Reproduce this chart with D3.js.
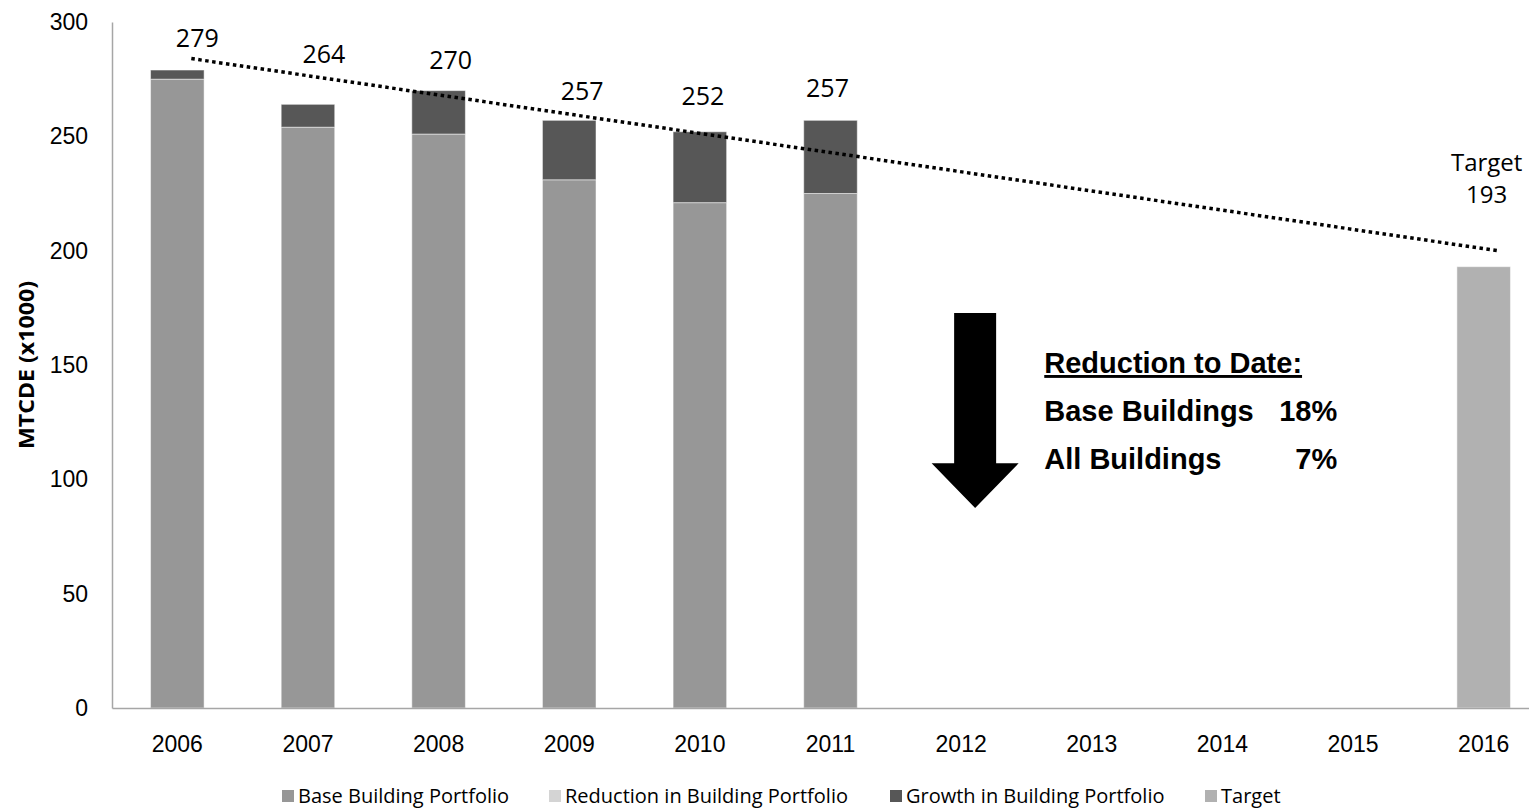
<!DOCTYPE html>
<html>
<head>
<meta charset="utf-8">
<style>
    body { margin: 0; background: #fff; }
    svg { font-family: "Open Sans", sans-serif; display: block; }
    .axis path { stroke: #a6a6a6; stroke-width: 1.5px; }
    .axis line { display: none; }
    .axis text { fill: #000; }
    .note { font-family: "Liberation Sans", Arial, sans-serif; font-weight: bold; font-size: 29px; }
</style>
<script src="https://cdn.jsdelivr.net/npm/d3@7"></script>
<title>MTCDE</title>
</head>
<body>
<div id="chart"></div>
<script>
    // chart values
    var years = ["2006", "2007", "2008", "2009", "2010", "2011", "2012", "2013", "2014", "2015", "2016"];
    var base = [275, 254, 251, 231, 221, 225, 0, 0, 0, 0, 0];
    var reduction = [0, 0, 0, 0, 0, 0, 0, 0, 0, 0, 0];
    var growth = [4, 10, 19, 26, 31, 32, 0, 0, 0, 0, 0];
    var target = [0, 0, 0, 0, 0, 0, 0, 0, 0, 0, 193];
    var totals = [279, 264, 270, 257, 252, 257];
    var trendYears = ["2006", "2016"];
    var trendValues = [284, 200];
    var yTicks = [0, 50, 100, 150, 200, 250, 300];
    var seriesNames = ["Base Building Portfolio", "Reduction in Building Portfolio", "Growth in Building Portfolio", "Target"];
    var seriesColors = ["#979797", "#d4d4d4", "#575757", "#b1b1b1"];

    // hand placed label nudges (pixels), the labels were moved by hand in the original
    var labelDx = [20, 16, 12, 13, 3, -3];
    var labelDy = [-32, -50, -30, -29, -36, -32];

    var width = 1529, height = 808;
    var margin = { top: 22, right: -20, bottom: 100, left: 112 };

    var svg = d3.select("#chart").append("svg")
        .attr("width", width)
        .attr("height", height);

    var x = d3.scaleBand()
        .domain(years)
        .range([margin.left, width - margin.right])
        .paddingInner(0.59)
        .paddingOuter(0.295);

    var y = d3.scaleLinear()
        .domain([0, 300])
        .range([height - margin.bottom, margin.top]);

    var half = x.bandwidth() / 2;
    function cx(yr) { return x(yr) + half; }

    // stacked table
    var table = years.map(function (yr, i) {
        return { year: yr, base: base[i], reduction: reduction[i], growth: growth[i], target: target[i] };
    });
    var keys = ["base", "reduction", "growth", "target"];
    var stack = d3.stack().keys(keys)(table);

    svg.append("g").selectAll("g")
        .data(stack)
        .enter().append("g")
        .attr("fill", function (d, i) { return seriesColors[i]; })
        .selectAll("rect")
        .data(function (d) { return d.filter(function (s) { return s[1] - s[0] > 0; }); })
        .enter().append("rect")
        .attr("x", function (d) { return x(d.data.year); })
        .attr("width", x.bandwidth())
        .attr("y", function (d) { return y(d[1]); })
        .attr("height", function (d) { return y(d[0]) - y(d[1]); })
        .attr("stroke", "#ffffff")
        .attr("stroke-opacity", 0.5)
        .attr("stroke-width", 1);

    // axes
    svg.append("g")
        .attr("class", "axis")
        .attr("transform", "translate(" + margin.left + ",0)")
        .call(d3.axisLeft(y).tickValues(yTicks).tickSize(0).tickPadding(24).tickSizeOuter(0))
        .selectAll("text").style("font-size", "23px");

    svg.append("g")
        .attr("class", "axis")
        .attr("transform", "translate(0," + y(0) + ")")
        .call(d3.axisBottom(x).tickSize(0).tickPadding(28).tickSizeOuter(0))
        .selectAll("text").style("font-size", "23px");

    // y title
    svg.append("text")
        .attr("transform", "translate(27," + ((y(0) + y(300)) / 2) + ") rotate(-90)")
        .attr("text-anchor", "middle")
        .attr("dy", "0.35em")
        .attr("textLength", 168)
        .attr("lengthAdjust", "spacingAndGlyphs")
        .style("font-size", "21px")
        .style("font-weight", "bold")
        .text("MTCDE (x1000)");

    // trend line
    svg.append("path")
        .datum(trendYears.map(function (yr, i) { return [yr, trendValues[i]]; }))
        .attr("fill", "none")
        .attr("stroke", "#000")
        .attr("stroke-width", 3.5)
        .attr("stroke-dasharray", "3.5,3.5")
        .attr("d", d3.line()
            .x(function (d) { return cx(d[0]) + 14; })
            .y(function (d) { return y(d[1]); }));

    // total labels
    svg.append("g").selectAll("text")
        .data(totals)
        .enter().append("text")
        .attr("x", function (d, i) { return cx(years[i]) + labelDx[i]; })
        .attr("y", function (d, i) { return y(d) + labelDy[i]; })
        .attr("text-anchor", "middle")
        .attr("dy", "0.35em")
        .style("font-size", "25px")
        .text(function (d) { return d; });

    // target label
    var tx = cx("2016") + 3;
    svg.append("text")
        .attr("x", tx)
        .attr("y", y(193) - 104)
        .attr("text-anchor", "middle")
        .attr("dy", "0.35em")
        .style("font-size", "24px")
        .text("Target");
    svg.append("text")
        .attr("x", tx)
        .attr("y", y(193) - 72)
        .attr("text-anchor", "middle")
        .attr("dy", "0.35em")
        .style("font-size", "24px")
        .text(target[10]);

    // arrow
    var ax = cx("2012") + 14;
    svg.append("path")
        .attr("fill", "#000")
        .attr("d", d3.line()([
            [ax - 21, y(172.7)], [ax + 21, y(172.7)], [ax + 21, y(107)], [ax + 43.5, y(107)],
            [ax, y(87.5)], [ax - 43.5, y(107)], [ax - 21, y(107)]
        ]) + "Z");

    // note
    var nx = cx("2013") - 47.5;
    svg.append("text").attr("class", "note")
        .attr("x", nx).attr("y", y(146.5))
        .attr("text-decoration", "underline")
        .text("Reduction to Date:");
    svg.append("text").attr("class", "note")
        .attr("x", nx).attr("y", y(125.5))
        .text("Base Buildings");
    svg.append("text").attr("class", "note")
        .attr("x", nx + 293).attr("y", y(125.5))
        .attr("text-anchor", "end")
        .text("18%");
    svg.append("text").attr("class", "note")
        .attr("x", nx).attr("y", y(104.5))
        .text("All Buildings");
    svg.append("text").attr("class", "note")
        .attr("x", nx + 293).attr("y", y(104.5))
        .attr("text-anchor", "end")
        .text("7%");

    // legend
    var legendX = [282, 549, 890, 1205];
    var legend = svg.append("g").selectAll("g")
        .data(seriesNames)
        .enter().append("g")
        .attr("transform", function (d, i) { return "translate(" + legendX[i] + "," + 796 + ")"; });
    legend.append("rect")
        .attr("x", 0).attr("y", -6)
        .attr("width", 12).attr("height", 12)
        .attr("fill", function (d, i) { return seriesColors[i]; });
    legend.append("text")
        .attr("x", 16)
        .attr("dy", "0.35em")
        .style("font-size", "20px")
        .text(function (d) { return d; });
</script>
</body>
</html>
